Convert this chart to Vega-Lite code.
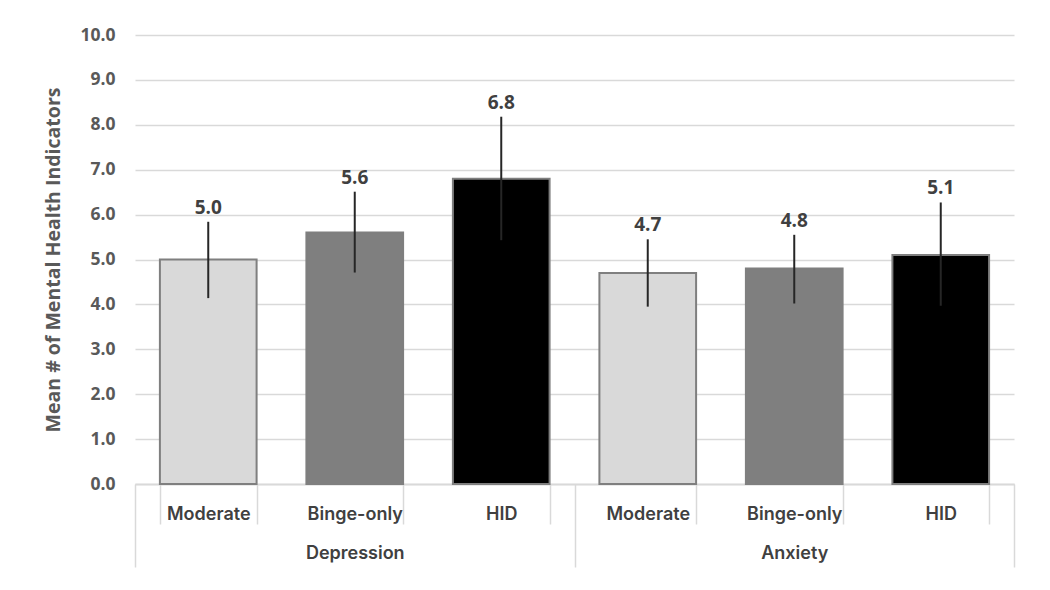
{
  "$schema": "https://vega.github.io/schema/vega-lite/v6.json",
  "width": 879,
  "height": 449,
  "autosize": {"type": "none"},
  "padding": {"left": 135, "top": 35, "right": 36, "bottom": 106},
  "background": "white",
  "config": {
    "view": {"stroke": null},
    "font": "Open Sans"
  },
  "data": {
    "values": [
      {"key": "Depression|Moderate", "group": "Depression", "cat": "Moderate", "mean": 5.0, "lo": 4.14, "hi": 5.84},
      {"key": "Depression|Binge-only", "group": "Depression", "cat": "Binge-only", "mean": 5.6, "lo": 4.71, "hi": 6.51},
      {"key": "Depression|HID", "group": "Depression", "cat": "HID", "mean": 6.8, "lo": 5.43, "hi": 8.18},
      {"key": "Anxiety|Moderate", "group": "Anxiety", "cat": "Moderate", "mean": 4.7, "lo": 3.95, "hi": 5.45},
      {"key": "Anxiety|Binge-only", "group": "Anxiety", "cat": "Binge-only", "mean": 4.8, "lo": 4.02, "hi": 5.55},
      {"key": "Anxiety|HID", "group": "Anxiety", "cat": "HID", "mean": 5.1, "lo": 3.97, "hi": 6.27}
    ]
  },
  "resolve": {"scale": {"x": "independent"}, "axis": {"x": "independent"}},
  "layer": [
    {
      "layer": [
        {
          "mark": {"type": "bar", "stroke": "#7f7f7f", "strokeWidth": 2},
          "encoding": {
            "x": {
              "field": "key", "type": "nominal", "sort": null,
              "scale": {"paddingInner": 0.34, "paddingOuter": 0.17},
              "axis": {
                "title": null,
                "orient": "bottom",
                "labelExpr": "split(datum.label, '|')[1]",
                "labelAngle": 0,
                "labelFont": "Inter",
                "labelFontSize": 18,
                "labelFontWeight": 600,
                "labelColor": "#404040",
                "labelPadding": -19,
                "tickBand": "extent",
                "tickSize": 40,
                "tickColor": "#d9d9d9",
                "tickWidth": 1.5,
                "domainColor": "#d9d9d9",
                "domainWidth": 1.5,
                "grid": false
              }
            },
            "y": {
              "field": "mean", "type": "quantitative",
              "scale": {"domain": [0, 10]},
              "axis": {
                "title": "Mean # of Mental Health Indicators",
                "titleFontSize": 19.5,
                "titleFontWeight": "bold",
                "titleColor": "#595959",
                "titlePadding": 16,
                "tickCount": 10,
                "format": ".1f",
                "labelFontSize": 17.5,
                "labelFontWeight": "bold",
                "labelColor": "#595959",
                "labelPadding": 20,
                "ticks": false,
                "domain": false,
                "gridColor": "#d9d9d9",
                "gridWidth": 1.5
              }
            },
            "color": {
              "field": "cat", "type": "nominal",
              "scale": {"domain": ["Moderate", "Binge-only", "HID"], "range": ["#d9d9d9", "#7f7f7f", "#000000"]},
              "legend": null
            }
          }
        },
        {
          "mark": {"type": "rule", "color": "#262626", "strokeWidth": 2},
          "encoding": {
            "x": {"field": "key", "type": "nominal", "sort": null},
            "y": {"field": "lo", "type": "quantitative"},
            "y2": {"field": "hi"}
          }
        },
        {
          "mark": {"type": "text", "baseline": "bottom", "dy": -4, "fontSize": 19, "fontWeight": "bold", "color": "#404040"},
          "encoding": {
            "x": {"field": "key", "type": "nominal", "sort": null},
            "y": {"field": "hi", "type": "quantitative"},
            "text": {"field": "mean", "type": "quantitative", "format": ".1f"}
          }
        }
      ]
    },
    {
      "mark": {"type": "point", "opacity": 0},
      "encoding": {
        "x": {
          "field": "group", "type": "nominal", "sort": ["Depression", "Anxiety"],
          "scale": {"paddingInner": 0, "paddingOuter": 0},
          "axis": {
            "title": null,
            "orient": "bottom",
            "labelAngle": 0,
            "labelFont": "Inter",
            "labelFontSize": 18,
            "labelFontWeight": 600,
            "labelColor": "#404040",
            "labelPadding": -23,
            "tickBand": "extent",
            "tickSize": 83,
            "tickColor": "#d9d9d9",
            "tickWidth": 1.5,
            "domainColor": "#d9d9d9",
            "domainWidth": 1.5,
            "grid": false
          }
        },
        "y": {"field": "mean", "type": "quantitative"}
      }
    }
  ]
}
